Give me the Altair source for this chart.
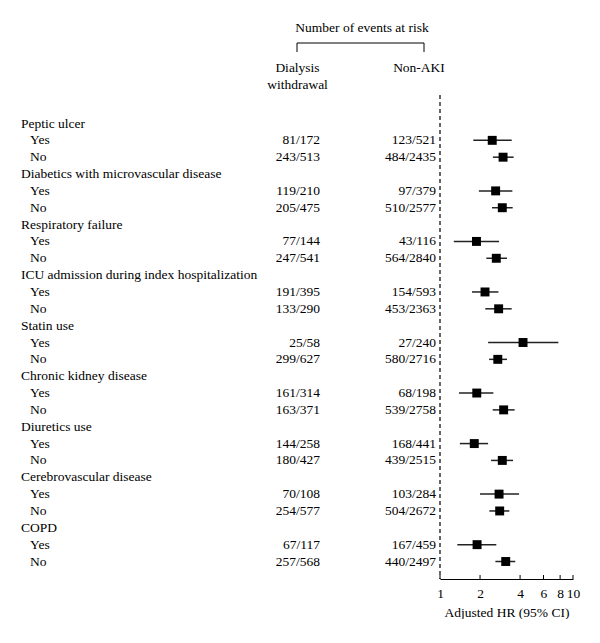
import altair as alt
import pandas as pd

groups = ["Peptic ulcer", "Diabetics with microvascular disease", "Respiratory failure",
          "ICU admission during index hospitalization", "Statin use", "Chronic kidney disease",
          "Diuretics use", "Cerebrovascular disease", "COPD"]
levels = ["Yes", "No"]
dialysis = ["81/172", "243/513", "119/210", "205/475", "77/144", "247/541",
            "191/395", "133/290", "25/58", "299/627", "161/314", "163/371",
            "144/258", "180/427", "70/108", "254/577", "67/117", "257/568"]
nonaki = ["123/521", "484/2435", "97/379", "510/2577", "43/116", "564/2840",
          "154/593", "453/2363", "27/240", "580/2716", "68/198", "539/2758",
          "168/441", "439/2515", "103/284", "504/2672", "167/459", "440/2497"]
hr = [2.47, 2.98, 2.62, 2.94, 1.88, 2.65, 2.18, 2.76, 4.21, 2.72,
      1.89, 3.01, 1.81, 2.94, 2.78, 2.81, 1.90, 3.12]
lo = [1.78, 2.50, 1.96, 2.46, 1.27, 2.23, 1.74, 2.19, 2.30, 2.34,
      1.39, 2.49, 1.41, 2.42, 2.00, 2.35, 1.35, 2.61]
hi = [3.46, 3.58, 3.50, 3.52, 2.78, 3.19, 2.75, 3.46, 7.76, 3.19,
      2.52, 3.64, 2.30, 3.54, 3.93, 3.32, 2.65, 3.68]
ticks = [1, 2, 4, 6, 8, 10]

head_rows, sub_rows = [], []
r = 0
k = 0
for g in groups:
    head_rows.append({"row": r, "label": g})
    r += 1
    for lv in levels:
        sub_rows.append({"row": r, "label": lv, "dial": dialysis[k], "nonaki": nonaki[k],
                         "hr": hr[k], "lo": lo[k], "hi": hi[k]})
        r += 1
        k += 1
heads = pd.DataFrame(head_rows)
subs = pd.DataFrame(sub_rows)
tick_df = pd.DataFrame({"t": ticks})

FONT = "Liberation Serif"
FS = 13.5
xs = alt.Scale(type="log", domain=[1, 10], range=[432, 565])
ys = alt.Scale(domain=[0, 26], range=[115.5, 553.5])
Y = alt.Y("row:Q", scale=ys, axis=None)

def txt(**kw):
    base = dict(font=FONT, fontSize=FS, color="black", baseline="middle")
    base.update(kw)
    return base

head_text = alt.Chart(heads).mark_text(**txt(align="left")).encode(
    x=alt.value(13), y=Y, text="label:N")
sub_text = alt.Chart(subs).mark_text(**txt(align="left")).encode(
    x=alt.value(22), y=Y, text="label:N")
dial_text = alt.Chart(subs).mark_text(**txt(align="right")).encode(
    x=alt.value(312), y=Y, text="dial:N")
non_text = alt.Chart(subs).mark_text(**txt(align="right")).encode(
    x=alt.value(428), y=Y, text="nonaki:N")

title_df = pd.DataFrame({"label": ["Number of events at risk", "Dialysis", "withdrawal", "Non-AKI"],
                         "px": [354, 289.5, 289.5, 411], "py": [20, 60, 77, 60]})
header_text = alt.Chart(title_df).mark_text(**txt(align="center")).encode(
    x=alt.X("px:Q", scale=None), y=alt.Y("py:Q", scale=None), text="label:N")

br_h = alt.Chart(pd.DataFrame({"a": [0]})).mark_rule(color="black", strokeWidth=1).encode(
    x=alt.value(289), x2=alt.value(416), y=alt.value(35))
br_l = alt.Chart(pd.DataFrame({"a": [0]})).mark_rule(color="black", strokeWidth=1).encode(
    x=alt.value(289), y=alt.value(35), y2=alt.value(44))
br_r = alt.Chart(pd.DataFrame({"a": [0]})).mark_rule(color="black", strokeWidth=1).encode(
    x=alt.value(416), y=alt.value(35), y2=alt.value(44))

ref = alt.Chart(pd.DataFrame({"v": [1]})).mark_rule(
    color="black", strokeWidth=1.2, strokeDash=[4, 3]).encode(
    x=alt.X("v:Q", scale=xs), y=alt.value(87), y2=alt.value(571))

ci = alt.Chart(subs).mark_rule(color="#222222", strokeWidth=1.5).encode(
    x=alt.X("lo:Q", scale=xs,
            axis=alt.Axis(values=ticks, format="d", ticks=False, grid=False,
                          domainColor="black", domainWidth=1.2, labelFont=FONT,
                          labelFontSize=FS, labelColor="black", labelPadding=7,
                          title="Adjusted HR (95% CI)", titleFont=FONT, titleFontSize=FS,
                          titleFontWeight="normal", titleColor="black", titlePadding=6,
                          labelFlush=False)),
    x2="hi:Q", y=Y)
pts = alt.Chart(subs).mark_point(shape="square", filled=True, color="black",
                                 size=80, opacity=1).encode(
    x=alt.X("hr:Q", scale=xs), y=Y)

tick_rules = alt.Chart(tick_df).mark_rule(color="black", strokeWidth=1).encode(
    x=alt.X("t:Q", scale=xs), y=alt.value(567), y2=alt.value(571))

chart = alt.layer(head_text, sub_text, dial_text, non_text, header_text, br_h, br_l, br_r,
                  ref, ci, pts, tick_rules).properties(
    width=584, height=571, padding=0
).configure_view(stroke=None)

chart.save("out.html", embed_options={"renderer": "svg", "actions": False})
